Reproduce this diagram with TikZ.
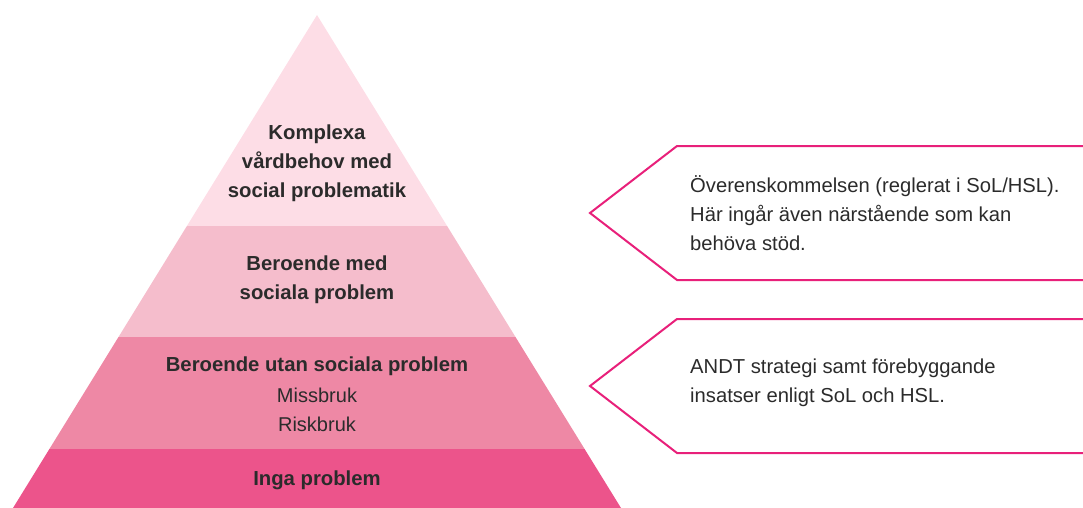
\documentclass[tikz,border=0pt]{standalone}
\usepackage{fontspec}
\setmainfont{Liberation Sans}
\definecolor{tierA}{HTML}{FDDDE6}
\definecolor{tierB}{HTML}{F5BDCC}
\definecolor{tierC}{HTML}{EE88A5}
\definecolor{tierD}{HTML}{EC548B}
\definecolor{callout}{HTML}{E8207A}
\definecolor{txt}{HTML}{2B2B2B}
\begin{document}
\begin{tikzpicture}[x=1pt,y=-1pt,
  tierlabel/.style={text=txt,align=center,font=\fontsize{20.3}{29}\selectfont\bfseries,inner sep=0pt},
  sublabel/.style={text=txt,align=center,font=\fontsize{20}{29}\selectfont,inner sep=0pt},
  callouttext/.style={text=txt,align=left,anchor=west,font=\fontsize{20.2}{29}\selectfont,inner sep=0pt},
  calloutbox/.style={draw=callout,line width=2pt,line join=miter}]
\useasboundingbox (0,0) rectangle (1083,508);
% pyramid tiers
\fill[tierA] (317,15) -- (447.1,226) -- (186.9,226) -- cycle;
\fill[tierB] (186.9,226) -- (447.1,226) -- (515.5,337) -- (118.5,337) -- cycle;
\fill[tierC] (118.5,337) -- (515.5,337) -- (584.6,449) -- (49.4,449) -- cycle;
\fill[tierD] (49.4,449) -- (584.6,449) -- (621,508) -- (13,508) -- cycle;
% labels
\node[tierlabel] (t1) at (317,163.5) {Komplexa\\vårdbehov med\\social problematik};
\node[tierlabel] (t2) at (317,280) {Beroende med\\sociala problem};
\node[tierlabel] (t3) at (317,366) {Beroende utan sociala problem};
\node[sublabel] (t3b) at (317,409.5) {Missbruk\\Riskbruk};
\node[tierlabel] (t4) at (317,480) {Inga problem};
% callouts
\draw[calloutbox] (1084,146) -- (677,146) -- (590,213) -- (677,280) -- (1084,280);
\draw[calloutbox] (1084,319) -- (677,319) -- (590,386) -- (677,453) -- (1084,453);
\node[callouttext] (c1) at (690,213) {Överenskommelsen (reglerat i SoL/HSL).\\Här ingår även närstående som kan\\behöva stöd.};
\node[callouttext] (c2) at (690,383) {ANDT strategi samt förebyggande\\insatser enligt SoL och HSL.};
\end{tikzpicture}
\end{document}
